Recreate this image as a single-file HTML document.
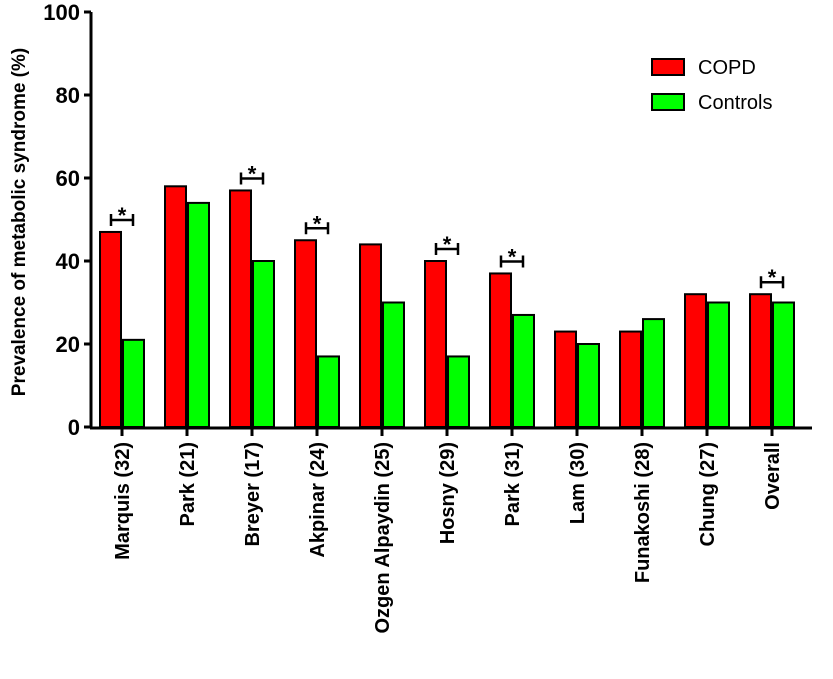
<!DOCTYPE html>
<html><head><style>body{margin:0;background:#fff}svg{font-family:"Liberation Sans",Arial,sans-serif}</style></head>
<body>
<svg id="c" width="833" height="674"></svg>
<script>
const categories=["Marquis (32)","Park (21)","Breyer (17)","Akpinar (24)","Ozgen Alpaydin (25)","Hosny (29)","Park (31)","Lam (30)","Funakoshi (28)","Chung (27)","Overall"];
const copd=[47,58,57,45,44,40,37,23,23,32,32];
const controls=[21,54,40,17,30,17,27,20,26,30,30];
const significant=[1,0,1,1,0,1,1,0,0,0,1];
const yTicks=[0,20,40,60,80,100];
const NS="http://www.w3.org/2000/svg";
const svg=document.getElementById('c');
const y=v=>427-v*4.15;
const xc=i=>122+i*65;
function mk(t,a,p){const e=document.createElementNS(NS,t);for(const k in a)e.setAttribute(k,a[k]);(p||svg).appendChild(e);return e;}
const ya=mk('line',{x1:91,y1:y(100),x2:91,y2:428,stroke:'#000','stroke-width':3});


const xa=mk('line',{x1:90,y1:428,x2:812,y2:428,stroke:'#000','stroke-width':3});


yTicks.forEach(t=>{
  mk('line',{x1:84,y1:y(t),x2:91,y2:y(t),stroke:'#000','stroke-width':3});
  const tx=mk('text',{x:80,y:y(t)+8,'text-anchor':'end','font-size':22,'font-weight':'bold'});
  tx.textContent=t;
  
  
});
const yt=mk('text',{transform:'translate(25,222) rotate(-90)','text-anchor':'middle','font-size':19,'font-weight':'bold'});
yt.textContent='Prevalence of  metabolic syndrome (%)';


categories.forEach((c,i)=>{
  const cx=xc(i);
  const r=mk('rect',{x:cx-22,y:y(copd[i]),width:21,height:427-y(copd[i]),fill:'#ff0000',stroke:'#000','stroke-width':2});
  
  
  const g=mk('rect',{x:cx+1,y:y(controls[i]),width:21,height:427-y(controls[i]),fill:'#00ff00',stroke:'#000','stroke-width':2});
  
  
  mk('line',{x1:cx,y1:428,x2:cx,y2:436,stroke:'#000','stroke-width':3});
  const l=mk('text',{transform:`translate(${cx+7},442) rotate(-90)`,'text-anchor':'end','font-size':20,'font-weight':'bold'});
  l.textContent=c;
  
  
  if(significant[i]){
    const by=y(Math.max(copd[i],controls[i]))-12;
    const b=mk('path',{d:`M${cx-11},${by-6}V${by+6}M${cx-11},${by}H${cx+11}M${cx+11},${by-6}V${by+6}`,stroke:'#000','stroke-width':2.5,fill:'none'});
    
    
    const s=mk('text',{x:cx,y:by+3,'text-anchor':'middle','font-size':22,'font-weight':'bold'});
    s.textContent='*';
    
    
  }
});
[['COPD','#ff0000',67],['Controls','#00ff00',102]].forEach(([n,col,ly])=>{
  const r=mk('rect',{x:652,y:ly-8,width:32,height:16,fill:col,stroke:'#000','stroke-width':2});
  
  
  const t=mk('text',{x:698,y:ly+7,'font-size':20});
  t.textContent=n;
  
  
});
</script>
</body></html>
